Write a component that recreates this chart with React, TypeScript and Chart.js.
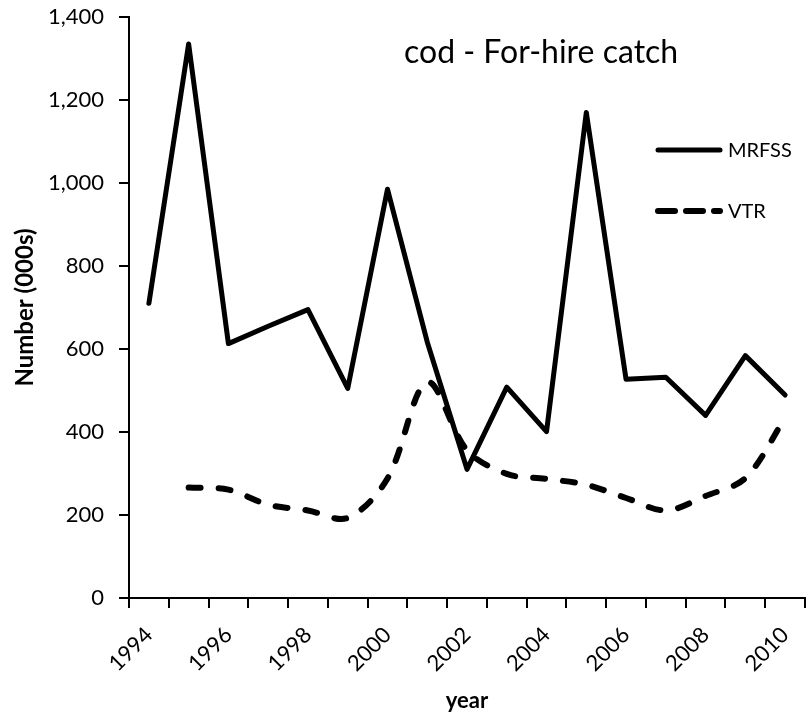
import React, { useEffect, useRef } from 'react';
import { Chart, registerables } from 'chart.js';

Chart.register(...registerables);

const years = ['1994', '1995', '1996', '1997', '1998', '1999', '2000', '2001', '2002', '2003', '2004', '2005', '2006', '2007', '2008', '2009', '2010'];
const mrfss = [710, 1335, 613, 655, 695, 505, 985, 617, 310, 508, 401, 1170, 527, 532, 440, 584, 489];
const vtr = [null, 266, 261, 225, 211, 193, 288, 520, 356, 299, 287, 273, 241, 211, 246, 289, 434];
const seriesNames = ['MRFSS', 'VTR'];
const chartTitle = 'cod - For-hire catch';
const xTitle = 'year';
const yTitle = 'Number (000s)';
const yMin = 0;
const yMax = 1400;
const yStep = 200;

const FONT = 'Lato, "Open Sans", sans-serif';

const overlayPlugin = {
  id: 'overlay',
  afterDraw(chart: any) {
    const ctx = chart.ctx;
    ctx.save();
    ctx.fillStyle = '#000';
    // title inside plot
    ctx.font = `32px ${FONT}`;
    ctx.textAlign = 'left';
    ctx.textBaseline = 'alphabetic';
    ctx.fillText(chartTitle, 404, 63);

    // legend
    const items = [
      { y: 150, ds: chart.data.datasets[0], dash: [] as number[] },
      { y: 211, ds: chart.data.datasets[1], dash: [17, 11] },
    ];
    items.forEach((it) => {
      ctx.beginPath();
      ctx.strokeStyle = it.ds.borderColor;
      ctx.lineWidth = it.ds.borderWidth;
      ctx.lineCap = 'round';
      ctx.setLineDash(it.dash);
      ctx.moveTo(658, it.y);
      ctx.lineTo(720, it.y);
      ctx.stroke();
      ctx.setLineDash([]);
      ctx.font = `20px ${FONT}`;
      ctx.textBaseline = 'middle';
      ctx.fillText(it.ds.label, 728, it.y + 1);
    });
    ctx.restore();
  },
};

export default function App() {
  const ref = useRef<HTMLCanvasElement>(null);
  useEffect(() => {
    if (!ref.current) return;
    Chart.defaults.font.family = FONT;
    Chart.defaults.color = '#000';
    const chart = new Chart(ref.current, {
      type: 'line',
      data: {
        labels: years,
        datasets: [
          {
            label: seriesNames[0],
            data: mrfss,
            borderColor: '#000',
            borderWidth: 5,
            pointRadius: 0,
            tension: 0,
            borderJoinStyle: 'round',
            borderCapStyle: 'round',
          },
          {
            label: seriesNames[1],
            data: vtr,
            borderColor: '#000',
            borderWidth: 6,
            pointRadius: 0,
            tension: 0.33,
            borderDash: [12, 18],
            borderCapStyle: 'round',
            borderJoinStyle: 'round',
          },
        ],
      },
      options: {
        responsive: false,
        animation: false,
        devicePixelRatio: 1,
        layout: { padding: { top: 17, right: 5, left: 0, bottom: 0 } },
        plugins: {
          legend: { display: false },
          title: { display: false },
          tooltip: { enabled: false },
        },
        scales: {
          x: {
            type: 'category',
            offset: true,
            grid: {
              offset: true,
              drawOnChartArea: false,
              drawTicks: true,
              tickLength: 10,
              color: '#000',
              lineWidth: 2,
            },
            border: { color: '#000', width: 2 },
            ticks: {
              autoSkip: false,
              maxRotation: 45,
              minRotation: 45,
              padding: 14,
              font: { size: 22 },
              color: '#000',
              callback: function (this: any, value: any, index: number) {
                return index % 2 === 0 ? this.getLabelForValue(value) : '';
              },
            },
            title: {
              display: true,
              text: xTitle,
              font: { size: 22, weight: 'bold' },
              color: '#000',
              padding: { top: 0, bottom: 3 },
            },
            afterFit: (scale: any) => {
              scale.height = 119;
              scale.paddingLeft = 0;
              scale.paddingRight = 0;
            },
          },
          y: {
            min: yMin,
            max: yMax,
            ticks: {
              stepSize: yStep,
              padding: 15,
              font: { size: 22 },
              color: '#000',
              callback: (v: any) => Number(v).toLocaleString('en-US'),
            },
            grid: {
              drawOnChartArea: false,
              drawTicks: true,
              tickLength: 10,
              color: '#000',
              lineWidth: 2,
            },
            border: { color: '#000', width: 2 },
            title: {
              display: true,
              text: yTitle,
              font: { size: 24, weight: 'bold' },
              color: '#000',
              padding: { top: 11, bottom: 0 },
            },
            afterFit: (scale: any) => {
              scale.width = 129;
              scale.paddingTop = 0;
              scale.paddingBottom = 0;
            },
          },
        },
      },
      plugins: [overlayPlugin],
    });
    return () => chart.destroy();
  }, []);

  return (
    <div style={{ position: 'fixed', left: 0, top: 0, width: 810, height: 717, background: '#fff' }}>
      <canvas ref={ref} width={810} height={717} style={{ display: 'block' }} />
    </div>
  );
}
